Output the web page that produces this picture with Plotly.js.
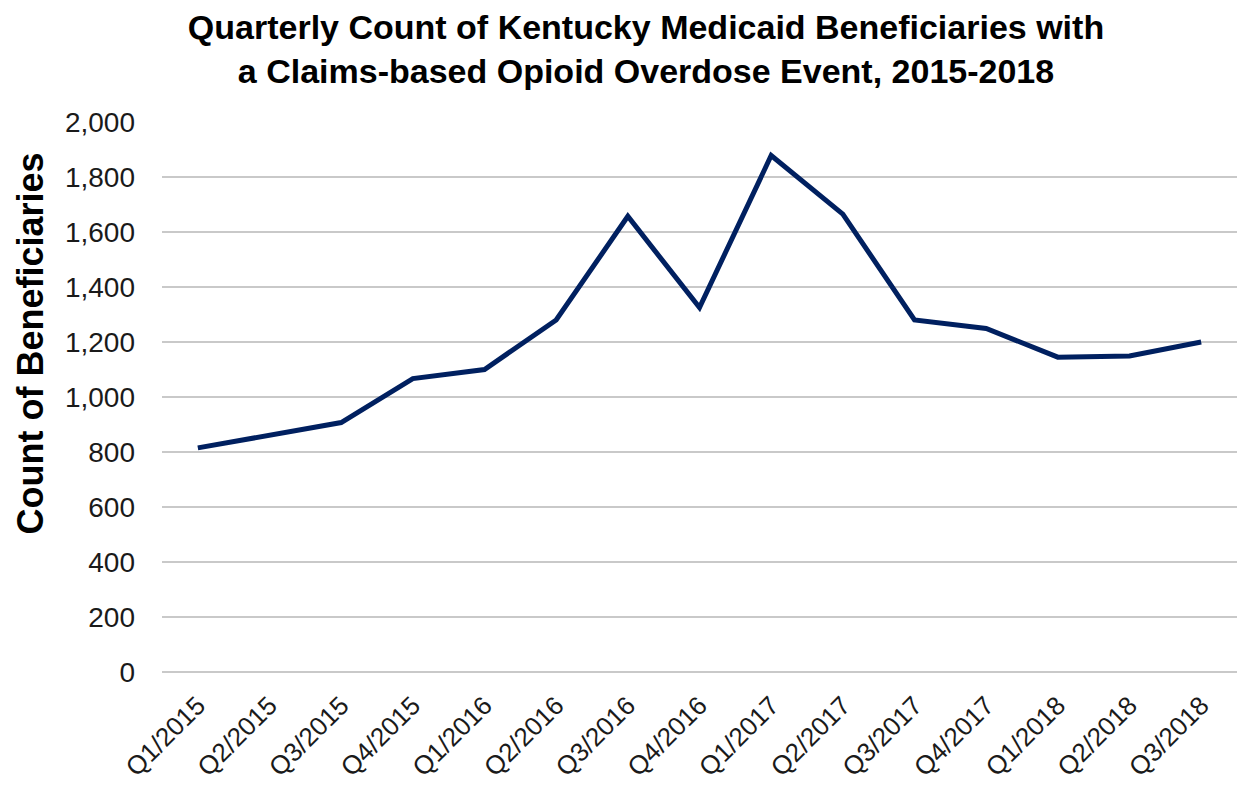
<!DOCTYPE html>
<html>
<head>
<meta charset="utf-8">
<script src="https://cdn.plot.ly/plotly-3.0.1.min.js"></script>
<style>html,body{margin:0;padding:0;background:#fff;}#chart{width:1239px;height:797px;}</style>
</head>
<body>
<div id="chart"></div>
<script>
const quarters = ["Q1/2015","Q2/2015","Q3/2015","Q4/2015","Q1/2016","Q2/2016","Q3/2016","Q4/2016","Q1/2017","Q2/2017","Q3/2017","Q4/2017","Q1/2018","Q2/2018","Q3/2018"];
const beneficiaries = [815, 862, 907, 1067, 1100, 1280, 1657, 1325, 1878, 1665, 1280, 1249, 1145, 1149, 1200];
const titleText = "Quarterly Count of Kentucky Medicaid Beneficiaries with<br>a Claims-based Opioid Overdose Event, 2015-2018";
const yTitleText = "Count of Beneficiaries";

const font = "Arial, 'Liberation Sans', sans-serif";

const trace = {
  x: quarters,
  y: beneficiaries,
  type: "scatter",
  mode: "lines",
  line: {color: "#002060", width: 5},
  hoverinfo: "x+y"
};

const layout = {
  width: 1239,
  height: 797,
  margin: {l: 162, r: 2, t: 122, b: 125},
  paper_bgcolor: "#ffffff",
  plot_bgcolor: "#ffffff",
  showlegend: false,
  font: {family: font, color: "#1a1a1a"},
  title: {
    text: titleText,
    font: {family: font, size: 34, color: "#000000", weight: "bold"},
    x: 0.5214,
    xanchor: "center",
    xref: "container",
    y: 0.951,
    yanchor: "middle",
    yref: "container"
  },
  xaxis: {
    type: "category",
    range: [-0.5, 14.5],
    tickangle: -45,
    tickfont: {family: font, size: 26, color: "#1a1a1a"},
    showgrid: false,
    zeroline: false,
    showline: false,
    ticks: "",
    ticklabelstandoff: 12
  },
  yaxis: {
    range: [0, 2000],
    dtick: 200,
    tickformat: ",d",
    tickfont: {family: font, size: 28, color: "#1a1a1a"},
    showgrid: true,
    gridcolor: "#c9c9c9",
    gridwidth: 2,
    zeroline: true,
    zerolinecolor: "#c9c9c9",
    zerolinewidth: 2,
    showline: false,
    ticks: "",
    ticklabelstandoff: 26
  },
  annotations: [{
    text: yTitleText,
    xref: "paper",
    yref: "paper",
    x: -0.1224,
    y: 0.598,
    xanchor: "center",
    yanchor: "middle",
    textangle: -90,
    showarrow: false,
    font: {family: font, size: 36, color: "#000000", weight: "bold"}
  }]
};

Plotly.newPlot("chart", [trace], layout, {displayModeBar: false, staticPlot: true});
</script>
</body>
</html>
